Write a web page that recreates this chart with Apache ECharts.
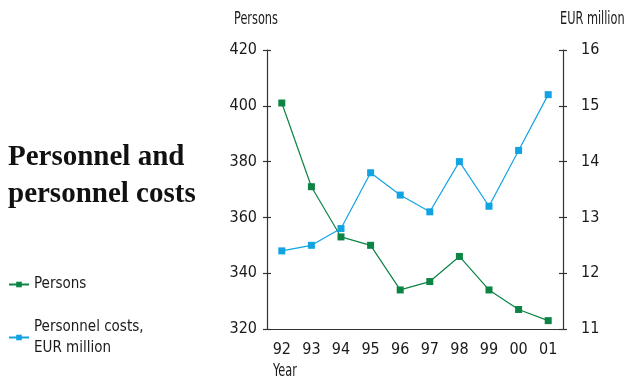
<!DOCTYPE html>
<html>
<head>
<meta charset="utf-8">
<script src="https://cdn.jsdelivr.net/npm/echarts@6/dist/echarts.min.js"></script>
<style>
  html, body { margin: 0; padding: 0; background: #ffffff; }
  #chart { width: 625px; height: 378px; }
</style>
</head>
<body>
<div id="chart"></div>
<script>
// Headcount and personnel costs per year
const years = ['92', '93', '94', '95', '96', '97', '98', '99', '00', '01'];
const persons = [401, 371, 353, 350, 334, 337, 346, 334, 327, 323];
const personnelCosts = [12.4, 12.5, 12.8, 13.8, 13.4, 13.1, 14.0, 13.2, 14.2, 15.2];
const personsTicks = { min: 320, max: 420, interval: 20 };
const costTicks = { min: 11, max: 16, interval: 1 };

const GREEN = '#0b8444';
const BLUE = '#12a3e3';
const AXIS = '#333333';
const INK = '#1a1a1a';
const FONT = '"Liberation Sans Narrow", "DejaVu Sans Condensed", sans-serif';
const SERIF = '"Liberation Serif", "DejaVu Serif", serif';

const chart = echarts.init(document.getElementById('chart'));

// Ticks cross the axis line: one axis draws the outer half, a twin draws the inner half
function valueAxis(pos, ticks, main) {
  return {
    type: 'value',
    position: pos,
    min: ticks.min,
    max: ticks.max,
    interval: ticks.interval,
    splitLine: { show: false },
    axisLine: { show: main, lineStyle: { color: AXIS, width: 1.2 } },
    axisTick: { show: true, inside: !main, length: 4, lineStyle: { color: AXIS, width: 1.2 } },
    axisLabel: {
      show: main,
      margin: pos === 'left' ? 10 : 18,
      color: INK,
      fontFamily: FONT,
      fontSize: 16
    }
  };
}

// Condensed caption text
function caption(text, left, top) {
  return {
    type: 'text', left: left, top: top, scaleX: 0.74,
    style: { text: text, font: '17px ' + FONT, fill: INK }
  };
}

chart.setOption({
  animation: false,
  grid: { left: 267, right: 62, top: 50, bottom: 49 },
  legend: [
    {
      orient: 'vertical',
      left: 8,
      top: 277,
      padding: 0,
      itemWidth: 20,
      itemHeight: 7,
      data: ['Persons'],
      textStyle: { fontFamily: FONT, fontSize: 15, color: INK }
    },
    {
      orient: 'vertical',
      left: 8,
      top: 306,
      padding: 0,
      itemWidth: 20,
      itemHeight: 7,
      data: ['Personnel costs, EUR million'],
      formatter: function () { return 'Personnel costs,\nEUR million'; },
      textStyle: {
        fontFamily: FONT, fontSize: 15, color: INK,
        lineHeight: 21, padding: [21, 0, 0, 0]
      }
    }
  ],
  graphic: [
    {
      type: 'text', left: 8, top: 139,
      style: {
        text: 'Personnel and\npersonnel costs',
        font: 'bold 29px ' + SERIF,
        lineHeight: 37,
        fill: '#111'
      }
    },
    caption('Persons', 234, 11),
    caption('EUR million', 560, 11),
    caption('Year', 273, 363)
  ],
  xAxis: {
    type: 'category',
    data: years,
    boundaryGap: true,
    axisLine: { lineStyle: { color: AXIS, width: 1.2 } },
    axisTick: { inside: true, length: 4, lineStyle: { color: AXIS, width: 1.2 } },
    axisLabel: { margin: 13, color: INK, fontFamily: FONT, fontSize: 16 }
  },
  yAxis: [
    valueAxis('left', personsTicks, true),
    valueAxis('right', costTicks, true),
    valueAxis('left', personsTicks, false),
    valueAxis('right', costTicks, false)
  ],
  series: [
    {
      name: 'Personnel costs, EUR million',
      type: 'line',
      yAxisIndex: 1,
      data: personnelCosts,
      symbol: 'rect',
      symbolSize: 7,
      itemStyle: { color: BLUE },
      lineStyle: { color: BLUE, width: 1.2 }
    },
    {
      name: 'Persons',
      type: 'line',
      yAxisIndex: 0,
      data: persons,
      symbol: 'rect',
      symbolSize: 7,
      itemStyle: { color: GREEN },
      lineStyle: { color: GREEN, width: 1.2 }
    }
  ]
});
</script>
</body>
</html>
